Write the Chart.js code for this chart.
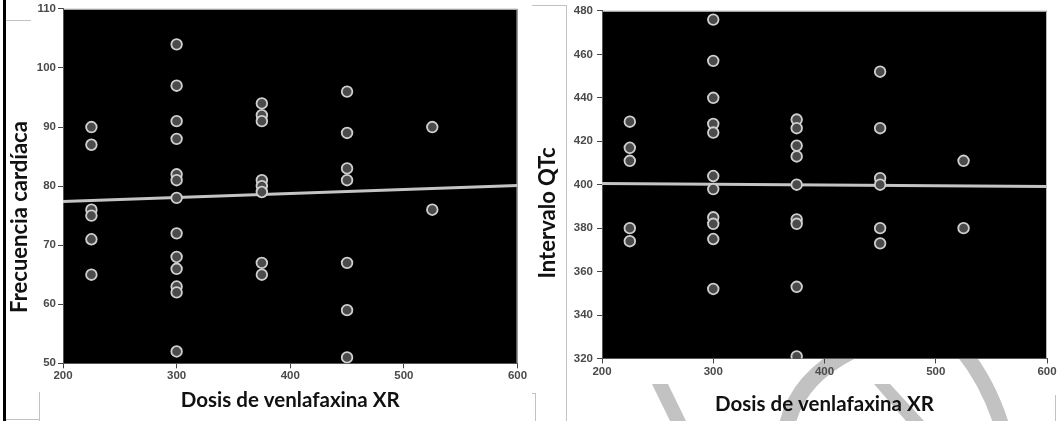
<!DOCTYPE html>
<html>
<head>
<meta charset="utf-8">
<script src="https://cdn.jsdelivr.net/npm/chart.js@4.4.1/dist/chart.umd.min.js"></script>
<style>
    html, body { margin: 0; padding: 0; background: #fff; }
    #page { position: relative; width: 1060px; height: 421px; overflow: hidden; }
    #page canvas { position: absolute; top: 0; z-index: 1; }
    #wm { position: absolute; left: 0; top: 0; z-index: 0; }
    .ln { position: absolute; background: #c2c2c2; z-index: 2; }
</style>
</head>
<body>
<div id="page">
    <svg id="wm" width="1060" height="421" viewBox="0 0 1060 421">
        <g fill="#c2c2c2" stroke="none">
            <polygon points="652,384 668,384 686,421 670,421"/>
            <polygon points="874,384 890,384 924,421 906,421"/>
        </g>
        <g fill="none" stroke="#c2c2c2" stroke-width="16">
            <path d="M786 430 Q795 380 850 352"/>
            <path d="M962 350 Q990 385 1003 430" stroke-width="15"/>
        </g>
    </svg>
    <canvas id="hrChart" width="530" height="421" style="left:0"></canvas>
    <canvas id="qtChart" width="530" height="421" style="left:530px"></canvas>
    <div class="ln" style="left:3px;top:0;width:3px;height:421px;background:#000"></div>
    <div class="ln" style="left:6px;top:20px;width:25px;height:1px"></div>
    <div class="ln" style="left:39px;top:392px;width:1px;height:29px"></div>
    <div class="ln" style="left:6px;top:419px;width:34px;height:1px"></div>
    <div class="ln" style="left:532px;top:5px;width:35px;height:1px"></div>
    <div class="ln" style="left:566px;top:5px;width:1px;height:416px"></div>
    <div class="ln" style="left:535px;top:393px;width:1px;height:28px"></div>
    <div class="ln" style="left:532px;top:393px;width:4px;height:1px"></div>
    <div class="ln" style="left:1055px;top:395px;width:1px;height:26px"></div>
</div>
<script>
// dose levels (mg) on the x axis
const doseLevels = [225, 300, 375, 450, 525];
const xTicks = [200, 300, 400, 500, 600];

// heart rate (lpm) per dose level
const hr225 = [90, 87, 76, 75, 71, 65];
const hr300 = [104, 97, 91, 88, 82, 81, 78, 72, 68, 66, 63, 62, 52];
const hr375 = [94, 92, 91, 81, 80, 79, 67, 65];
const hr450 = [96, 89, 83, 81, 67, 59, 51];
const hr525 = [90, 76];
const hrTicks = [50, 60, 70, 80, 90, 100, 110];
const hrFitX = [200, 600];
const hrFitY = [77.4, 80.1];

// QTc interval (ms) per dose level
const qt225 = [429, 417, 411, 380, 374];
const qt300 = [476, 457, 440, 428, 424, 404, 398, 385, 382, 375, 352];
const qt375 = [430, 426, 418, 413, 400, 384, 382, 353, 321];
const qt450 = [452, 426, 403, 400, 380, 373];
const qt525 = [411, 380];
const qtTicks = [320, 340, 360, 380, 400, 420, 440, 460, 480];
const qtFitX = [200, 600];
const qtFitY = [400.5, 399.2];

const tickFont = { family: "Liberation Sans", size: 11.5, weight: "bold" };
const tickColor = "#4a4a4a";

function toPoints(groups) {
    const pts = [];
    groups.forEach((vals, i) => {
        vals.forEach(v => pts.push({ x: doseLevels[i], y: v }));
    });
    return pts;
}

function toLine(xs, ys) {
    return xs.map((x, i) => ({ x: x, y: ys[i] }));
}

// black plot area with a thin grey frame on top and right
const blackPlot = {
    id: "blackPlot",
    beforeDraw(chart) {
        const { ctx, chartArea: a } = chart;
        ctx.save();
        ctx.fillStyle = "#000";
        ctx.fillRect(a.left, a.top, a.right - a.left, a.bottom - a.top);
        ctx.strokeStyle = "#b8b8b8";
        ctx.lineWidth = 1;
        ctx.beginPath();
        ctx.moveTo(a.left, a.top + 0.5);
        ctx.lineTo(a.right - 0.5, a.top + 0.5);
        ctx.lineTo(a.right - 0.5, a.bottom);
        ctx.stroke();
        ctx.restore();
    }
};

// rotated y title, centred lower than the plot like the original
const sideTitle = {
    id: "sideTitle",
    afterDraw(chart, args, opts) {
        const ctx = chart.ctx;
        ctx.save();
        ctx.translate(opts.x, opts.y);
        ctx.rotate(-Math.PI / 2);
        ctx.font = opts.font;
        ctx.fillStyle = "#111";
        ctx.textAlign = "center";
        ctx.textBaseline = "middle";
        ctx.fillText(opts.text, 0, 0);
        ctx.restore();
    }
};

function makeChart(id, cfg) {
    const ctx = document.getElementById(id).getContext("2d");
    return new Chart(ctx, {
        type: "scatter",
        data: {
            datasets: [{
                data: cfg.points,
                order: 0,
                pointRadius: 5.3,
                pointBorderWidth: 1.8,
                pointBackgroundColor: "#4b4b4b",
                pointBorderColor: "#cfcfcf"
            }, {
                type: "line",
                data: cfg.fit,
                order: 1,
                showLine: true,
                borderColor: "#c4c4c4",
                borderWidth: 3,
                pointRadius: 0
            }]
        },
        options: {
            responsive: false,
            animation: false,
            events: [],
            layout: { padding: cfg.padding },
            plugins: {
                legend: { display: false },
                tooltip: { enabled: false },
                sideTitle: cfg.yTitle
            },
            scales: {
                x: {
                    type: "linear",
                    min: xTicks[0],
                    max: xTicks[xTicks.length - 1],
                    afterBuildTicks: s => { s.ticks = xTicks.map(v => ({ value: v })); },
                    ticks: { color: tickColor, font: tickFont, padding: 1 },
                    grid: { drawOnChartArea: false, tickLength: 5, color: "#444" },
                    border: { color: "#555" },
                    title: {
                        display: true,
                        text: "Dosis de venlafaxina XR",
                        color: "#111",
                        font: { family: "Lato", size: 20.5, weight: "bold" },
                        padding: { top: 0, bottom: cfg.xTitlePad }
                    },
                    afterFit: s => { s.height = cfg.xHeight; }
                },
                y: {
                    min: cfg.yTicks[0],
                    max: cfg.yTicks[cfg.yTicks.length - 1],
                    afterBuildTicks: s => { s.ticks = cfg.yTicks.map(v => ({ value: v })); },
                    ticks: { color: tickColor, font: tickFont, padding: cfg.yTickPad },
                    grid: { drawOnChartArea: false, tickLength: 5, color: "#444" },
                    border: { color: "#555" },
                    afterFit: s => { s.width = cfg.yWidth; }
                }
            }
        },
        plugins: [blackPlot, sideTitle]
    });
}

makeChart("hrChart", {
    points: toPoints([hr225, hr300, hr375, hr450, hr525]),
    fit: toLine(hrFitX, hrFitY),
    yTicks: hrTicks,
    padding: { left: 0, top: 7, right: 12.5, bottom: 0 },
    yWidth: 63,
    yTickPad: 2,
    xHeight: 57.7,
    xTitlePad: 8,
    yTitle: { text: "Frecuencia cardíaca", x: 20, y: 217, font: "bold 22px Lato" }
});

makeChart("qtChart", {
    points: toPoints([qt225, qt300, qt375, qt450, qt525]),
    fit: toLine(qtFitX, qtFitY),
    yTicks: qtTicks,
    padding: { left: 0, top: 6.7, right: 13, bottom: 0 },
    yWidth: 72,
    yTickPad: 4,
    xHeight: 62.5,
    xTitlePad: 4,
    yTitle: { text: "Intervalo QTc", x: 18, y: 213, font: "bold 22px Lato" }
});
</script>
</body>
</html>
